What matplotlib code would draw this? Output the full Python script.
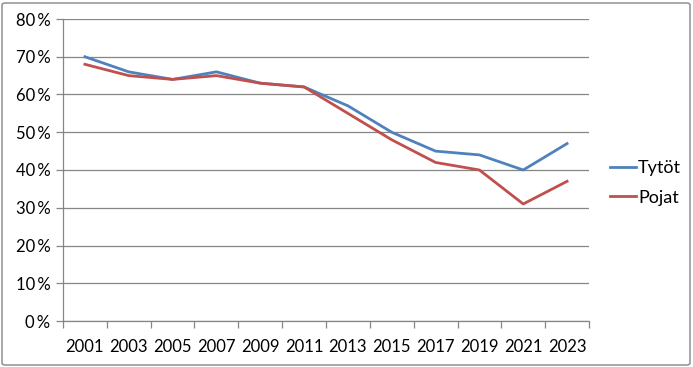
import matplotlib
matplotlib.use("Agg")
import matplotlib.pyplot as plt
from matplotlib.patches import FancyBboxPatch
from matplotlib.ticker import FixedLocator

years = ["2001", "2003", "2005", "2007", "2009", "2011", "2013", "2015", "2017", "2019", "2021", "2023"]
tytot = [70, 66, 64, 66, 63, 62, 57, 50, 45, 44, 40, 47]
pojat = [68, 65, 64, 65, 63, 62, 55, 48, 42, 40, 31, 37]
yticks = [0, 10, 20, 30, 40, 50, 60, 70, 80]

plt.rcParams['font.family'] = ['Lato', 'DejaVu Sans']

fig = plt.figure(figsize=(6.93, 3.67), dpi=100)
ax = fig.add_axes([63/693, 1-321/367, (589-63)/693, (321-19)/367])

x = list(range(len(years)))
ax.plot(x, tytot, color="#4F81BD", lw=2.0, label="Tytöt", solid_joinstyle="round")
ax.plot(x, pojat, color="#C0504D", lw=2.0, label="Pojat", solid_joinstyle="round")

ax.set_xlim(-0.5, len(years)-0.5)
ax.set_ylim(0, 80)
ax.set_yticks(yticks)
ax.set_yticklabels([f"{v}\u2009%" for v in yticks], fontsize=12)
ax.yaxis.grid(True, color="#868686", lw=0.9)
ax.set_axisbelow(True)

ax.set_xticks(x)
ax.set_xticklabels(years, fontsize=12)
ax.tick_params(axis='x', which='major', length=0, pad=13)
ax.xaxis.set_minor_locator(FixedLocator([i-0.5 for i in range(len(years)+1)]))
ax.tick_params(axis='x', which='minor', length=5, color="#868686", width=0.9)
ax.tick_params(axis='y', length=5, color="#868686", width=0.9, pad=4)

for s in ["top", "right"]:
    ax.spines[s].set_visible(False)
for s in ["left", "bottom"]:
    ax.spines[s].set_color("#868686")
    ax.spines[s].set_linewidth(0.9)

leg = fig.legend(loc="center left", bbox_to_anchor=(610/693, 1-183/367), frameon=False,
                 borderpad=0, borderaxespad=0,
                 fontsize=13, handlelength=1.45, handletextpad=0.1, labelspacing=0.75)

border = FancyBboxPatch((2/693, 2/367), 688/693, 362/367, boxstyle="round,pad=0,rounding_size=0.005",
                        transform=fig.transFigure, fill=False, edgecolor="#868686", lw=1.0)
fig.patches.append(border)

fig.savefig("out.png", dpi=100)
